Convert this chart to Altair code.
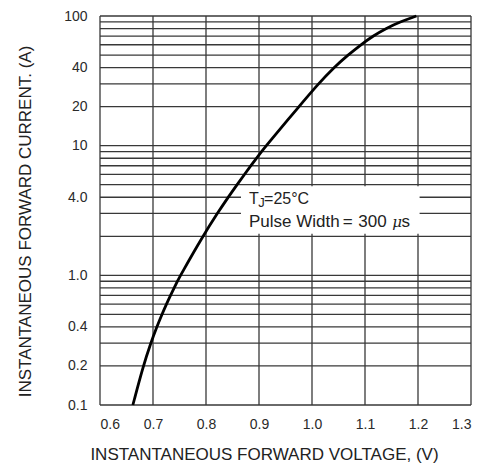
import altair as alt
import pandas as pd

# Forward characteristic
current = [0.1, 0.2, 0.3, 0.4, 0.5, 0.6, 0.7, 0.8, 0.9, 1, 2, 3, 4, 5, 6, 7, 8, 9, 10,
           20, 30, 40, 50, 60, 70, 80, 90, 100]
voltage = [0.662, 0.6816, 0.6957, 0.7072, 0.7169, 0.7254, 0.7330, 0.7398, 0.7460, 0.7518,
           0.7939, 0.8212, 0.8418, 0.8585, 0.8725, 0.8846, 0.8953, 0.9049, 0.9136,
           0.9753, 1.012, 1.041, 1.068, 1.092, 1.115, 1.139, 1.166, 1.197]

x_ticks = [0.6, 0.7, 0.8, 0.9, 1.0, 1.1, 1.2, 1.3]
y_grid = [0.1, 0.2, 0.3, 0.4, 0.5, 0.6, 0.7, 0.8, 0.9,
          1, 2, 3, 4, 5, 6, 7, 8, 9,
          10, 20, 30, 40, 50, 60, 70, 80, 90, 100]
y_tick_values = [0.1, 0.2, 0.4, 1, 4, 10, 20, 40, 100]
y_tick_labels = ["0.1", "0.2", "0.4", "1.0", "4.0", "10", "20", "40", "100"]

# annotation box (data coordinates) and its text pieces
box_x = [0.866]
box_x2 = [1.203]
box_y = [2.09]
box_y2 = [4.87]
note_text = ["T", "J", "=25°C", "Pulse Width", "=", "300", "s"]
note_x = [0.881, 0.8985, 0.9095, 0.881, 1.058, 1.0874, 1.169]
note_y = [3.56, 3.38, 3.56, 2.37, 2.37, 2.37, 2.37]
note_size = [16, 13, 16, 17, 17, 17, 17]
mu_text = ["μ"]
mu_x = [1.1515]
mu_y = [2.37]

FONT = "Liberation Sans"
GRID = "#383838"

xscale = alt.Scale(domain=[0.6, 1.3], nice=False, zero=False)
yscale = alt.Scale(type="log", domain=[0.1, 100], nice=False)

label_expr = " : ".join(
    f"datum.value == {v} ? '{l}'" for v, l in zip(y_tick_values, y_tick_labels)
) + " : ''"

x_axis = alt.Axis(
    values=x_ticks, format=".1f", grid=False, domain=False, ticks=False,
    labelFont=FONT, labelFontSize=14, labelColor="#2a2a2a", labelPadding=12,
    title="INSTANTANEOUS FORWARD VOLTAGE, (V)", titleFont=FONT,
    titleFontSize=17, titleFontWeight="normal", titleColor="#222",
    titleX=164, titleY=54, titleBaseline="alphabetic", titleAlign="center",
)
y_axis = alt.Axis(
    values=y_tick_values, labelExpr=label_expr, grid=False, domain=False,
    ticks=False, labelFont=FONT, labelFontSize=14, labelColor="#2a2a2a",
    labelPadding=13, labelBaseline="middle",
    title="INSTANTANEOUS FORWARD CURRENT. (A)", titleFont=FONT,
    titleFontSize=17, titleFontWeight="normal", titleColor="#222",
    titleX=-70, titleY=205, titleBaseline="alphabetic", titleAlign="center",
    titleAngle=270,
)

curve_df = pd.DataFrame({"V": voltage, "I": current})
hgrid_df = pd.DataFrame({"I": y_grid})
vgrid_df = pd.DataFrame({"V": x_ticks})
box_df = pd.DataFrame({"V": box_x, "x2": box_x2, "I": box_y, "y2": box_y2})
note_df = pd.DataFrame({"t": note_text, "V": note_x, "I": note_y, "s": note_size})
mu_df = pd.DataFrame({"t": mu_text, "V": mu_x, "I": mu_y})

X = alt.X("V:Q", scale=xscale, axis=x_axis)
Y = alt.Y("I:Q", scale=yscale, axis=y_axis)

hgrid = alt.Chart(hgrid_df).mark_rule(color=GRID, strokeWidth=1.3).encode(y=Y)
vgrid = alt.Chart(vgrid_df).mark_rule(color=GRID, strokeWidth=1.3).encode(x=X)
box = alt.Chart(box_df).mark_rect(color="white").encode(
    x=X, x2="x2:Q", y=Y, y2="y2:Q",
)
curve = alt.Chart(curve_df).mark_line(
    color="black", strokeWidth=2.8, interpolate="basis"
).encode(x=X, y=Y)
notes = alt.Chart(note_df).mark_text(
    align="left", baseline="alphabetic", font=FONT, color="#222"
).encode(
    x=X, y=Y, text="t:N",
    size=alt.Size("s:Q", scale=None, legend=None),
)
mu = alt.Chart(mu_df).mark_text(
    align="left", baseline="alphabetic", font="DejaVu Serif", fontStyle="italic",
    fontSize=15, color="#222"
).encode(x=X, y=Y, text="t:N")

chart = alt.layer(hgrid, vgrid, box, curve, notes, mu).properties(
    width=371, height=389,
    autosize=alt.AutoSizeParams(type="none"),
    padding={"left": 92, "top": 8, "right": 7, "bottom": 60},
    background="white",
).configure_view(stroke=None)

chart.save("out.html", embed_options={"renderer": "svg", "actions": False})
